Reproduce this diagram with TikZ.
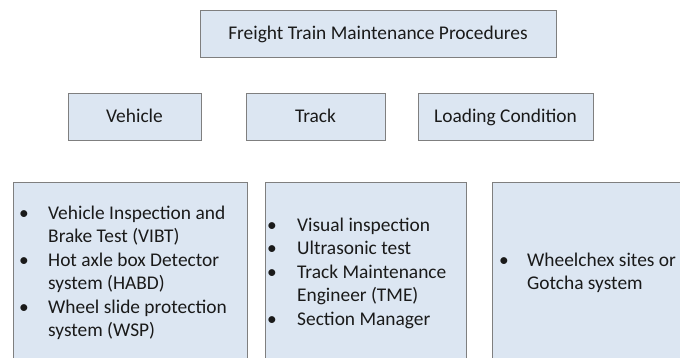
\documentclass[tikz,border=0pt]{standalone}
\usepackage{fontspec}
\setmainfont{Carlito}
\usetikzlibrary{shadows}
\definecolor{boxfill}{HTML}{DCE6F2}
\definecolor{boxline}{HTML}{7F7F7F}
\definecolor{txt}{HTML}{1A1A1A}

\begin{document}
\begin{tikzpicture}[x=1pt,y=-1pt,
  box/.style={draw=boxline,line width=0.9pt,fill=boxfill,inner sep=0pt,
    drop shadow={shadow xshift=1pt,shadow yshift=-1.5pt,opacity=0.35},
    text=txt,font=\fontsize{19.4}{23.5}\selectfont},
  title/.style={box,minimum height=47pt,text height=14pt,text depth=1pt},
  list/.style={anchor=west,inner sep=0pt,text=txt,font=\fontsize{19.4}{23.5}\selectfont}]
  \useasboundingbox (0,0) rectangle (680,358);
  \clip (0,0) rectangle (680,358);
  % top box
  \node [title,minimum width=356pt] (freight) at (378,33.5) {Freight Train Maintenance Procedures};
  % second row
  \node [title,minimum width=133pt] (vehicle) at (134.5,116.5) {Vehicle};
  \node [title,minimum width=139pt] (track) at (315.5,116.5) {Track};
  \node [title,minimum width=175pt] (loading) at (505.5,116.5) {Loading Condition};
  % bottom boxes
  \node [box,anchor=north west,minimum width=234pt,minimum height=190pt] (vehbox) at (13,182) {};
  \node [box,anchor=north west,minimum width=201pt,minimum height=190pt] (trackbox) at (265,182) {};
  \node [box,anchor=north west,minimum width=200pt,minimum height=190pt] (loadbox) at (492,182) {};
  % lists
  \node [list] (vehlist) at (19,273.5) {\begin{tabular}{@{}p{29pt}@{}l@{}}
    \textbullet & Vehicle Inspection and\\
                & Brake Test (VIBT)\\
    \textbullet & Hot axle box Detector\\
                & system (HABD)\\
    \textbullet & Wheel slide protection\\
                & system (WSP)
  \end{tabular}};
  \node [list] (tracklist) at (267,273.5) {\begin{tabular}{@{}p{30pt}@{}l@{}}
    \textbullet & Visual inspection\\
    \textbullet & Ultrasonic test\\
    \textbullet & Track Maintenance\\
                & Engineer (TME)\\
    \textbullet & Section Manager
  \end{tabular}};
  \node [list] (loadlist) at (499,273.5) {\begin{tabular}{@{}p{28pt}@{}l@{}}
    \textbullet & Wheelchex sites or\\
                & Gotcha system
  \end{tabular}};
\end{tikzpicture}
\end{document}
